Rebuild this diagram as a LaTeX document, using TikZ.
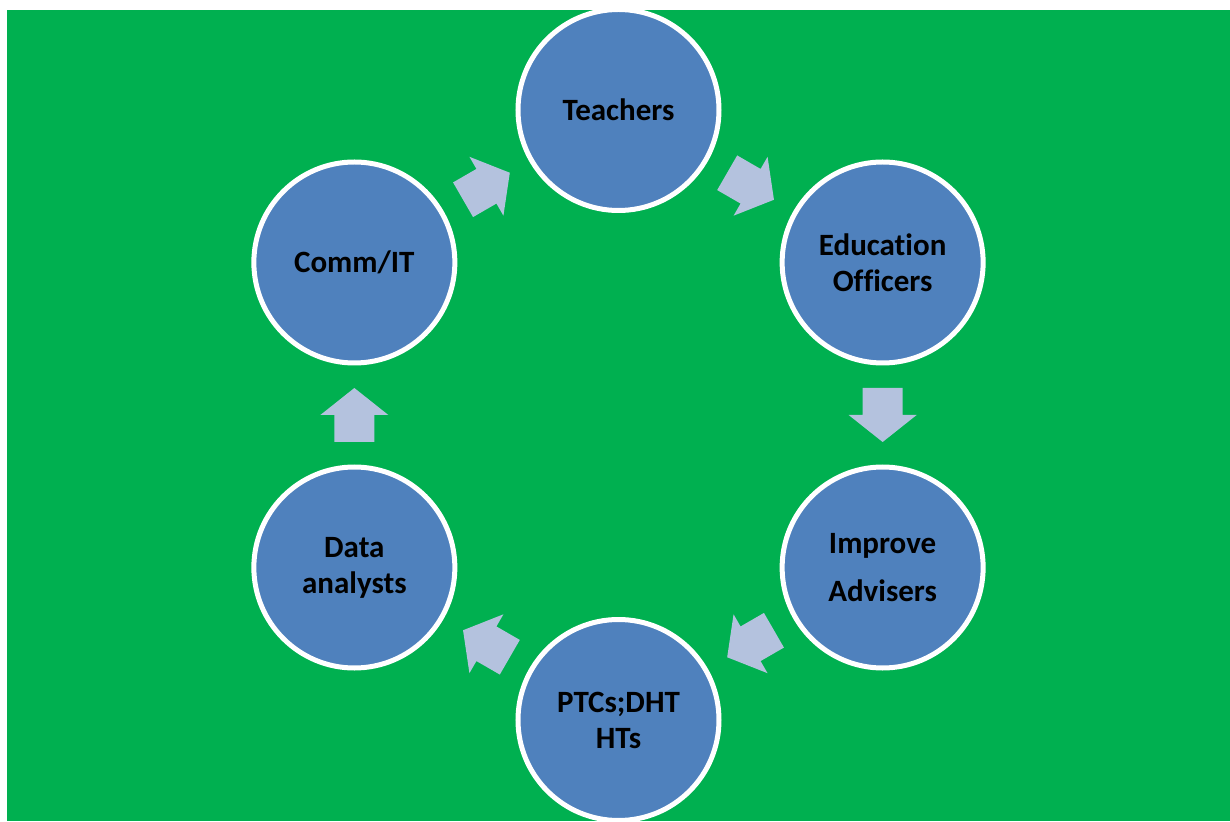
\documentclass[tikz,border=0pt]{standalone}
\usepackage{fontspec}
\setmainfont[Ligatures=NoCommon]{Carlito}
\usetikzlibrary{calc}

\definecolor{bggreen}{HTML}{00B050}
\definecolor{stageblue}{HTML}{4F81BD}
\definecolor{arrowblue}{RGB}{180,194,222}

\tikzset{
  stage/.style={circle,draw=white,line width=5pt,fill=stageblue,
    minimum size=201pt,inner sep=0pt,align=center,
    font=\bfseries\fontsize{31}{36}\selectfont},
  blockarrow/.pic={
    \fill[arrowblue] (-27,-20) -- (0,-20) -- (0,-34) -- (27,0)
      -- (0,34) -- (0,20) -- (-27,20) -- cycle;}
}

\begin{document}
\begin{tikzpicture}[x=1pt,y=1pt] % 1230 x 821
  \useasboundingbox (-618.5,-406) rectangle (611.5,415);
  \fill[bggreen] (-611.5,-406) rectangle (611.5,405);
  % the six stages round the cycle
  \node[stage] (te) at (90:305)   {Teachers};
  \node[stage] (eo) at (30:305)   {Education\\Officers};
  \node[stage] (ia) at (-30:305)  {Improve\\[12pt]Advisers};
  \node[stage] (pt) at (-90:305)  {PTCs;DHT\\HTs};
  \node[stage] (da) at (-150:305) {Data\\analysts};
  \node[stage] (co) at (150:305)  {Comm/IT};
  % block arrows halfway between stages
  \foreach \a/\b/\r in {co/te/30,te/eo/-30,eo/ia/-90,ia/pt/-150,pt/da/150,da/co/90}
    \path ($(\a)!0.5!(\b)$) pic[rotate=\r] {blockarrow};
\end{tikzpicture}
\end{document}
